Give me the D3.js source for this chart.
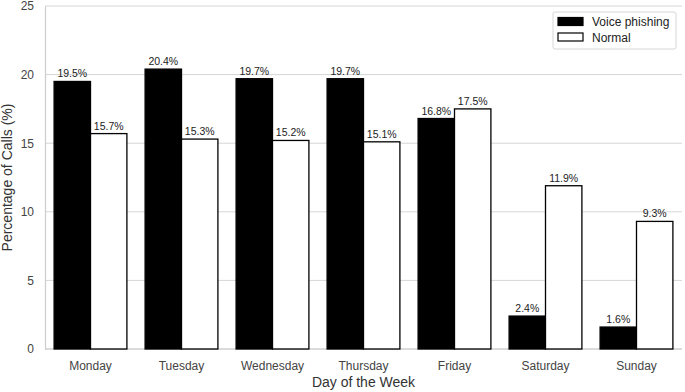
<!DOCTYPE html>
<html>
<head>
<meta charset="utf-8">
<script src="https://cdn.jsdelivr.net/npm/d3@7"></script>
<style>
  body { margin: 0; background: #fff; }
  svg { font-family: "Liberation Sans", Arial, sans-serif; }
</style>
</head>
<body>
<div id="chart"></div>
<script>
const days = ["Monday", "Tuesday", "Wednesday", "Thursday", "Friday", "Saturday", "Sunday"];
const seriesNames = ["Voice phishing", "Normal"];
const phishing = [19.5, 20.4, 19.7, 19.7, 16.8, 2.4, 1.6];
const normal = [15.7, 15.3, 15.2, 15.1, 17.5, 11.9, 9.3];
const yTicks = [0, 5, 10, 15, 20, 25];

const width = 685;
const height = 392;
const margin = { top: 6, right: 3, bottom: 43, left: 45 };
const innerW = width - margin.left - margin.right;
const innerH = height - margin.top - margin.bottom;

const rows = days.map((d, i) => ({ day: d, values: [phishing[i], normal[i]] }));

const svg = d3.select("#chart")
    .append("svg")
    .attr("width", width)
    .attr("height", height)
    .append("g")
    .attr("transform", `translate(${margin.left},${margin.top})`);

const xScale = d3.scaleBand()
    .domain(days)
    .range([0, innerW])
    .paddingInner(0.2)
    .paddingOuter(0.1);

const xSub = d3.scaleBand()
    .domain(seriesNames)
    .range([0, xScale.bandwidth()]);

const yScale = d3.scaleLinear()
    .domain([0, 25])
    .range([innerH, 0]);

// grid
svg.append("g")
    .selectAll("line")
    .data(yTicks)
    .enter()
    .append("line")
    .attr("x1", 0)
    .attr("x2", innerW)
    .attr("y1", d => yScale(d))
    .attr("y2", d => yScale(d))
    .attr("stroke", "#d6d6d6")
    .attr("stroke-width", 1);

// y axis
const yAxis = svg.append("g")
    .call(d3.axisLeft(yScale).tickValues(yTicks).tickSize(0).tickPadding(11));
yAxis.select(".domain").attr("stroke", "#cccccc").attr("stroke-width", 1.2);
yAxis.selectAll("text")
    .attr("font-size", "12px")
    .attr("fill", "#444")
    .attr("font-family", "Liberation Sans, Arial, sans-serif");

// x axis
const xAxis = svg.append("g")
    .attr("transform", `translate(0,${innerH})`)
    .call(d3.axisBottom(xScale).tickSize(0).tickPadding(12));
xAxis.select(".domain").attr("stroke", "#cccccc").attr("stroke-width", 1.2)
    .attr("d", `M0,0H${innerW}`);
xAxis.selectAll("text")
    .attr("font-size", "12px")
    .attr("fill", "#444")
    .attr("font-family", "Liberation Sans, Arial, sans-serif");

// bars
const groups = svg.selectAll(".day")
    .data(rows)
    .enter()
    .append("g")
    .attr("transform", d => `translate(${xScale(d.day)},0)`);

groups.selectAll("rect")
    .data(d => d.values.map((v, i) => ({ key: seriesNames[i], value: v })))
    .enter()
    .append("rect")
    .attr("x", d => xSub(d.key))
    .attr("y", d => yScale(d.value))
    .attr("width", xSub.bandwidth())
    .attr("height", d => innerH - yScale(d.value))
    .attr("fill", d => d.key === "Normal" ? "#fff" : "#000")
    .attr("stroke", "#000")
    .attr("stroke-width", 1.3);

groups.selectAll(".label")
    .data(d => d.values.map((v, i) => ({ key: seriesNames[i], value: v })))
    .enter()
    .append("text")
    .attr("class", "label")
    .attr("x", d => xSub(d.key) + xSub.bandwidth() / 2)
    .attr("y", d => yScale(d.value) - 4)
    .attr("text-anchor", "middle")
    .attr("font-size", "10.5px")
    .attr("fill", "#222")
    .text(d => `${d.value.toFixed(1)}%`);

// axis titles
svg.append("text")
    .attr("x", innerW / 2)
    .attr("y", innerH + 38)
    .attr("text-anchor", "middle")
    .attr("font-size", "14px")
    .attr("fill", "#333")
    .text("Day of the Week");

svg.append("text")
    .attr("transform", `translate(${-margin.left + 12},${innerH / 2}) rotate(-90)`)
    .attr("text-anchor", "middle")
    .attr("font-size", "14px")
    .attr("fill", "#333")
    .text("Percentage of Calls (%)");

// legend
const legend = svg.append("g")
    .attr("transform", `translate(${innerW - 129},${6})`);

legend.append("rect")
    .attr("width", 123)
    .attr("height", 37)
    .attr("rx", 2)
    .attr("fill", "#fff")
    .attr("fill-opacity", 0.9)
    .attr("stroke", "#d6d6d6");

seriesNames.forEach((name, i) => {
    legend.append("rect")
        .attr("x", 5)
        .attr("y", 5.5 + i * 15.5)
        .attr("width", 25)
        .attr("height", 8)
        .attr("fill", name === "Normal" ? "#fff" : "#000")
        .attr("stroke", "#000")
        .attr("stroke-width", 1.2);
    legend.append("text")
        .attr("x", 39)
        .attr("y", 14 + i * 15.5)
        .attr("font-size", "12px")
        .attr("fill", "#222")
        .text(name);
});
</script>
</body>
</html>
